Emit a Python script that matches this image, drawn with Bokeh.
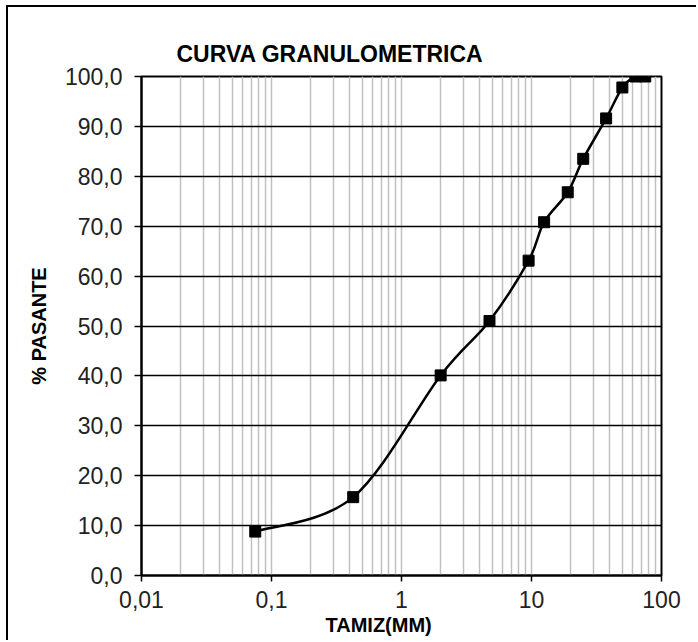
import numpy as np
from bokeh.plotting import figure
from bokeh.models import (ColumnDataSource, FixedTicker, CustomJSTickFormatter,
                          Title, Range1d)
from bokeh.embed import file_html
from bokeh.resources import INLINE

# ---------------- data ----------------
title_text = "CURVA GRANULOMETRICA"
x_label = "TAMIZ(MM)"
y_label = "% PASANTE"

sieve_mm = [0.075, 0.425, 2.0, 4.75, 9.5, 12.5, 19.0, 25.0, 37.5, 50.0, 63.0, 75.0]
pct_passing = [8.8, 15.7, 40.1, 51.0, 63.1, 70.8, 76.8, 83.5, 91.6, 97.8, 100.0, 100.0]

x_ticks = [0.01, 0.1, 1, 10, 100]
x_tick_labels = ["0,01", "0,1", "1", "10", "100"]
x_minor_ticks = [m * 10.0 ** e for e in range(-2, 2) for m in range(2, 10)]
y_ticks = [0, 10, 20, 30, 40, 50, 60, 70, 80, 90, 100]
y_tick_labels = ["0,0", "10,0", "20,0", "30,0", "40,0", "50,0",
                 "60,0", "70,0", "80,0", "90,0", "100,0"]

FONT = "Liberation Sans"

# ------------- smoothed curve (Catmull-Rom -> cubic Bezier in log-x space) -------------
lx = np.log10(np.array(sieve_mm))
yy = np.array(pct_passing)
n = len(lx)
px = np.concatenate([[lx[0]], lx, [lx[-1]]])
py = np.concatenate([[yy[0]], yy, [yy[-1]]])
x0, y0, x1, y1, cx0, cy0, cx1, cy1 = [], [], [], [], [], [], [], []
for i in range(n - 1):
    a, b, c, d = i, i + 1, i + 2, i + 3
    x0.append(10 ** px[b]); y0.append(py[b])
    x1.append(10 ** px[c]); y1.append(py[c])
    cx0.append(10 ** (px[b] + (px[c] - px[a]) / 6.0)); cy0.append(py[b] + (py[c] - py[a]) / 6.0)
    cx1.append(10 ** (px[c] - (px[d] - px[b]) / 6.0)); cy1.append(py[c] - (py[d] - py[b]) / 6.0)
curve = ColumnDataSource(dict(x0=x0, y0=y0, x1=x1, y1=y1, cx0=cx0, cy0=cy0, cx1=cx1, cy1=cy1))
pts = ColumnDataSource(dict(x=sieve_mm, y=pct_passing))

# ---------------- figure ----------------
p = figure(width=690, height=635, x_axis_type="log",
           x_range=Range1d(0.01, 100), y_range=Range1d(0, 100),
           output_backend="svg", toolbar_location=None,
           min_border_left=133, min_border_right=37,
           min_border_top=69, min_border_bottom=67,
           margin=(5, 0, 0, 6),
           background_fill_color="white", border_fill_color="white")
p.styles = {"border-left": "2px solid black", "border-top": "2px solid black"}

p.outline_line_color = "black"
p.outline_line_width = 2

# title
p.title.text = title_text
p.title.align = "left"
p.title.offset = 35
p.title.text_font = FONT
p.title.text_font_size = "23px"
p.title.text_font_style = "bold"
p.title.text_color = "black"
p.title.standoff = 19

# x axis
xt = FixedTicker(ticks=x_ticks, minor_ticks=x_minor_ticks)
p.xaxis.ticker = xt
p.xgrid.ticker = xt
p.xaxis.formatter = CustomJSTickFormatter(args=dict(tvals=x_ticks, tlabels=x_tick_labels), code="""
    for (let i = 0; i < tvals.length; i++) {
        if (Math.abs(Math.log10(tvals[i]) - Math.log10(tick)) < 1e-6) return tlabels[i];
    }
    return "";
""")
yt = FixedTicker(ticks=y_ticks, minor_ticks=[])
p.yaxis.ticker = yt
p.ygrid.ticker = yt
p.yaxis.formatter = CustomJSTickFormatter(args=dict(tvals=y_ticks, tlabels=y_tick_labels), code="""
    for (let i = 0; i < tvals.length; i++) {
        if (Math.abs(tvals[i] - tick) < 1e-6) return tlabels[i];
    }
    return "";
""")

for ax in (p.xaxis[0], p.yaxis[0]):
    ax.axis_line_color = "black"
    ax.axis_line_width = 2
    ax.major_tick_line_color = "black"
    ax.major_tick_line_width = 1.5
    ax.major_tick_in = 0
    ax.minor_tick_line_color = None
    ax.major_label_text_font = FONT
    ax.major_label_text_font_size = "23px"
    ax.major_label_text_color = "#222222"

p.xaxis.major_tick_out = 6
p.xaxis.major_label_standoff = 9
p.yaxis.major_tick_out = 7
p.yaxis.major_label_standoff = 12

p.yaxis.axis_label = y_label
p.yaxis.axis_label_text_font = FONT
p.yaxis.axis_label_text_font_size = "20px"
p.yaxis.axis_label_text_font_style = "bold"
p.yaxis.axis_label_text_color = "black"
p.yaxis.axis_label_standoff = 12

p.add_layout(Title(text=x_label, align="left", offset=184, text_font=FONT,
                   text_font_size="20px", text_font_style="bold",
                   text_color="black", standoff=2), "below")

# grids
p.xgrid.grid_line_color = "#c0c0c0"
p.xgrid.grid_line_width = 1.5
p.xgrid.minor_grid_line_color = "#c0c0c0"
p.xgrid.minor_grid_line_width = 1.5
p.ygrid.grid_line_color = "black"
p.ygrid.grid_line_width = 1.3

# curve and markers
p.bezier(x0="x0", y0="y0", x1="x1", y1="y1", cx0="cx0", cy0="cy0", cx1="cx1", cy1="cy1",
         source=curve, line_color="black", line_width=2.5)
p.scatter(x="x", y="y", source=pts, marker="square", size=11,
          fill_color="black", line_color="black")

open("out.html", "w").write(file_html(p, INLINE))
